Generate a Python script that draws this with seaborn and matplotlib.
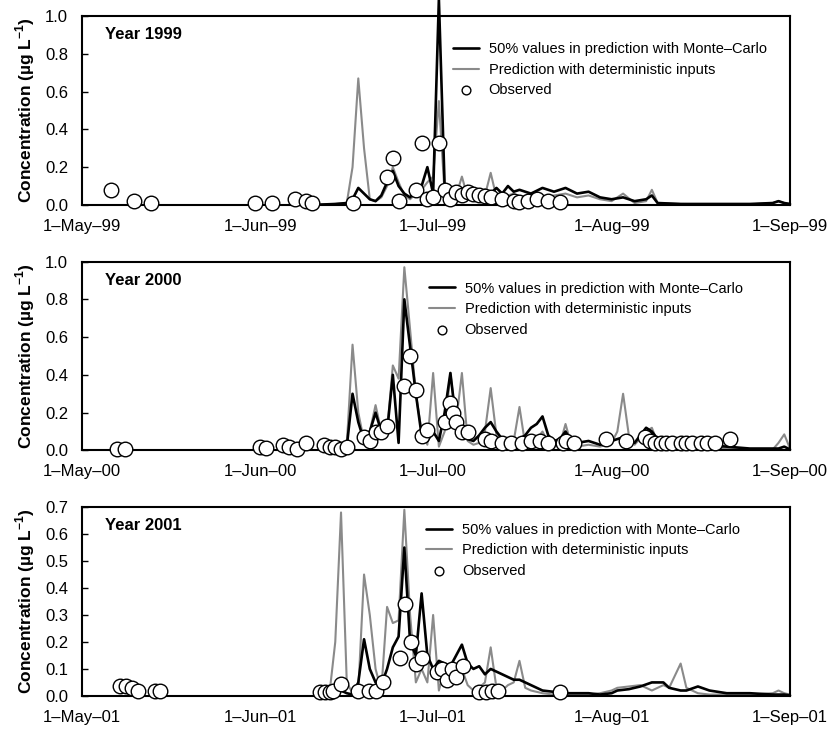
import matplotlib.pyplot as plt
import numpy as np
import seaborn as sns

sns.set_theme(style="white")
plt.rcParams["font.family"] = ["Liberation Sans", "DejaVu Sans"]
plt.rcParams["mathtext.fontset"] = "custom"
plt.rcParams["mathtext.rm"] = "Liberation Sans"
plt.rcParams["mathtext.bf"] = "Liberation Sans:bold"
plt.rcParams["text.color"] = "black"
plt.rcParams["axes.labelcolor"] = "black"

# days counted from 1 May of each year
month_days = [0, 31, 61, 92, 123]
month_names = ["May", "Jun", "Jul", "Aug", "Sep"]

# ---- 1999 ----
days_99 = [40, 44, 46, 47, 48, 49, 50, 51, 52, 53, 54, 55, 56, 57, 58, 59, 60, 61, 62, 63,
           64, 65, 66, 67, 68, 69, 70, 71, 72, 73, 74, 75, 76, 78, 80, 82, 84, 86, 88, 90,
           92, 94, 96, 98, 99, 100, 104, 110, 116, 120, 121, 122, 123]
mc_99 = [0.0, 0.005, 0.01, 0.03, 0.09, 0.06, 0.03, 0.02, 0.05, 0.12, 0.18, 0.1, 0.06, 0.04,
         0.08, 0.1, 0.2, 0.06, 1.09, 0.1, 0.06, 0.08, 0.07, 0.1, 0.07, 0.06, 0.08, 0.06, 0.09,
         0.06, 0.1, 0.07, 0.08, 0.06, 0.09, 0.07, 0.09, 0.06, 0.07, 0.04, 0.03, 0.04, 0.02,
         0.03, 0.05, 0.01, 0.005, 0.005, 0.005, 0.01, 0.02, 0.01, 0.005]
det_99 = [0.0, 0.005, 0.01, 0.2, 0.67, 0.3, 0.03, 0.02, 0.04, 0.1, 0.2, 0.12, 0.05, 0.03,
          0.06, 0.08, 0.12, 0.15, 0.55, 0.06, 0.04, 0.05, 0.15, 0.04, 0.03, 0.04, 0.05, 0.17,
          0.04, 0.03, 0.05, 0.06, 0.04, 0.05, 0.03, 0.05, 0.06, 0.04, 0.05, 0.03, 0.02, 0.06,
          0.01, 0.02, 0.08, 0.01, 0.005, 0.003, 0.003, 0.01, 0.02, 0.01, 0.005]
obs_days_99 = [5, 9, 12, 30, 33, 37, 39, 40, 47, 53, 54, 55, 58, 59, 60, 61, 62, 63, 64, 65,
               66, 67, 68, 69, 70, 71, 73, 75, 76, 77.5, 79, 81, 83]
obs_99 = [0.08, 0.02, 0.01, 0.01, 0.01, 0.03, 0.02, 0.01, 0.01, 0.15, 0.25, 0.02, 0.08, 0.33,
          0.03, 0.04, 0.33, 0.08, 0.03, 0.07, 0.05, 0.07, 0.06, 0.05, 0.045, 0.04, 0.03, 0.02,
          0.015, 0.02, 0.03, 0.02, 0.015]

# ---- 2000 ----
days_00 = [44, 46, 47, 48, 49, 50, 51, 52, 53, 54, 55, 56, 57, 58, 59, 60, 61, 62, 63, 64,
           65, 66, 67, 68, 69, 70, 71, 72, 73, 74, 75, 76, 77, 78, 79, 80, 81, 82, 83, 84,
           85, 86, 88, 90, 92, 93, 94, 95, 96, 98, 99, 100, 102, 104, 108, 112, 116, 120,
           121, 122, 123]
mc_00 = [0.005, 0.02, 0.3, 0.15, 0.05, 0.1, 0.2, 0.1, 0.1, 0.4, 0.04, 0.8, 0.55, 0.3, 0.08,
         0.05, 0.1, 0.05, 0.2, 0.41, 0.15, 0.1, 0.06, 0.05, 0.08, 0.12, 0.15, 0.1, 0.06, 0.05,
         0.04, 0.06, 0.08, 0.12, 0.14, 0.18, 0.08, 0.05, 0.06, 0.1, 0.05, 0.04, 0.05, 0.03,
         0.05, 0.06, 0.07, 0.05, 0.04, 0.12, 0.1, 0.06, 0.04, 0.04, 0.03, 0.02, 0.01, 0.01,
         0.01, 0.02, 0.005]
det_00 = [0.005, 0.03, 0.56, 0.2, 0.05, 0.1, 0.24, 0.1, 0.1, 0.45, 0.38, 0.97, 0.64, 0.3,
          0.1, 0.03, 0.41, 0.02, 0.1, 0.41, 0.15, 0.41, 0.05, 0.03, 0.04, 0.1, 0.33, 0.08,
          0.04, 0.03, 0.05, 0.23, 0.03, 0.04, 0.06, 0.1, 0.04, 0.02, 0.03, 0.14, 0.03, 0.02,
          0.03, 0.02, 0.04, 0.1, 0.3, 0.08, 0.03, 0.1, 0.12, 0.04, 0.03, 0.03, 0.02, 0.01,
          0.005, 0.005, 0.04, 0.085, 0.01]
obs_days_00 = [6, 7.5, 31, 32, 35, 36, 37.3, 39, 42, 43, 44, 45, 46, 49, 50, 51, 52, 53, 56,
               57, 58, 59, 60, 63, 64, 64.5, 65, 66, 67, 70, 71, 73, 74.5, 76.5, 78, 79.5,
               81, 83.5, 84, 85.5, 91, 94.5, 97.8, 98.7, 99.5, 100.5, 101.5, 102.5, 104,
               105, 106, 107.5, 108.5, 110, 112.5]
obs_00 = [0.01, 0.01, 0.02, 0.015, 0.03, 0.02, 0.01, 0.04, 0.03, 0.02, 0.02, 0.01, 0.02,
          0.07, 0.05, 0.1, 0.1, 0.13, 0.34, 0.5, 0.32, 0.075, 0.11, 0.15, 0.25, 0.2, 0.15,
          0.1, 0.1, 0.06, 0.05, 0.04, 0.04, 0.04, 0.05, 0.05, 0.04, 0.04, 0.05, 0.04, 0.06,
          0.05, 0.07, 0.05, 0.04, 0.04, 0.04, 0.04, 0.04, 0.04, 0.04, 0.04, 0.04, 0.04, 0.06]

# ---- 2001 ----
days_01 = [43, 44, 45, 46, 47, 48, 49, 50, 51, 52, 53, 54, 55, 56, 57, 58, 59, 60, 61, 62,
           63, 64, 65, 66, 67, 68, 69, 70, 71, 72, 73, 74, 75, 76, 77, 78, 80, 82, 84, 86,
           88, 90, 92, 93, 95, 97, 99, 101, 102, 104, 105, 107, 109, 112, 116, 120, 121,
           122, 123]
mc_01 = [0.005, 0.01, 0.02, 0.01, 0.005, 0.05, 0.21, 0.1, 0.05, 0.04, 0.1, 0.18, 0.22, 0.55,
         0.2, 0.15, 0.38, 0.15, 0.1, 0.13, 0.12, 0.11, 0.15, 0.19, 0.12, 0.1, 0.11, 0.08,
         0.1, 0.09, 0.08, 0.07, 0.06, 0.06, 0.05, 0.04, 0.02, 0.015, 0.01, 0.01, 0.01,
         0.005, 0.01, 0.02, 0.025, 0.035, 0.05, 0.05, 0.03, 0.02, 0.02, 0.035, 0.02, 0.01,
         0.01, 0.005, 0.005, 0.005, 0.002]
det_01 = [0.01, 0.2, 0.68, 0.05, 0.01, 0.02, 0.45, 0.3, 0.1, 0.02, 0.33, 0.27, 0.28, 0.69,
          0.3, 0.05, 0.1, 0.05, 0.3, 0.02, 0.1, 0.05, 0.08, 0.1, 0.04, 0.02, 0.03, 0.05,
          0.18, 0.03, 0.02, 0.04, 0.05, 0.13, 0.03, 0.02, 0.01, 0.005, 0.005, 0.005, 0.005,
          0.01, 0.02, 0.03, 0.035, 0.04, 0.02, 0.04, 0.03, 0.12, 0.03, 0.01, 0.005, 0.005,
          0.005, 0.01, 0.02, 0.01, 0.005]
obs_days_01 = [6.6, 7.6, 8.7, 9.8, 12.7, 13.5, 41.3, 42.2, 43, 43.6, 45, 48, 49.8, 51, 52.3,
               55.3, 56.2, 57.1, 58, 59, 61.6, 62.5, 63.4, 64.3, 65, 66.2, 69, 70.2, 71.2,
               72.3, 83]
obs_01 = [0.037, 0.037, 0.03, 0.02, 0.02, 0.02, 0.015, 0.015, 0.015, 0.02, 0.045, 0.02,
          0.02, 0.02, 0.05, 0.14, 0.34, 0.2, 0.12, 0.14, 0.09, 0.1, 0.06, 0.1, 0.07, 0.11,
          0.015, 0.015, 0.02, 0.02, 0.015]

panels = [
    ("1999", "99", days_99, mc_99, det_99, obs_days_99, obs_99, 1.0, 0.2, (0.524, 0.862)),
    ("2000", "00", days_00, mc_00, det_00, obs_days_00, obs_00, 1.0, 0.2, (0.490, 0.894)),
    ("2001", "01", days_01, mc_01, det_01, obs_days_01, obs_01, 0.7, 0.1, (0.486, 0.916)),
]

fig, axes = plt.subplots(3, 1, figsize=(8.4, 7.31), dpi=100)
fig.subplots_adjust(left=0.0976, right=0.9405, top=0.978, bottom=0.048, hspace=0.3)

for ax, (year, yy, days, mc, det, od, ov, ymax, step, anchor) in zip(axes, panels):
    sns.lineplot(x=days, y=mc, ax=ax, color="black", linewidth=1.9, estimator=None,
                 label="50% values in prediction with Monte\u2013Carlo", clip_on=False, zorder=3)
    sns.lineplot(x=days, y=det, ax=ax, color="#8a8a8a", linewidth=1.5, estimator=None,
                 label="Prediction with deterministic inputs", zorder=2)
    sns.scatterplot(x=od, y=ov, ax=ax, s=110, facecolor="white", edgecolor="black",
                    linewidth=1.0, label="Observed", zorder=4, clip_on=False)

    ax.set_xlim(0, 123)
    ax.set_ylim(0, ymax)
    ax.set_xticks(month_days)
    ax.set_xticklabels([f"1\u2013{m}\u2013{yy}" for m in month_names])
    yt = np.round(np.arange(0, ymax + step / 2, step), 1)
    ax.set_yticks(yt)
    ax.set_yticklabels([f"{v:.1f}" for v in yt])
    ax.tick_params(axis="x", length=0, pad=10, labelsize=12, colors="black")
    ax.tick_params(axis="y", direction="in", length=4, width=1, pad=10,
                   labelsize=12, colors="black", left=True)
    for sp in ax.spines.values():
        sp.set_color("black")
        sp.set_linewidth(1.5)

    ax.set_xlabel("")
    ax.set_ylabel("Concentration (\u00b5g L$^{\\mathbf{-1}}$)", fontsize=12.5,
                  fontweight="bold", labelpad=6, color="black")
    ax.text(0.032, 0.90, f"Year {year}", transform=ax.transAxes, fontsize=12,
            fontweight="bold", va="center", ha="left", color="black")
    leg = ax.legend(loc="upper left", bbox_to_anchor=anchor, frameon=False, fontsize=10.5,
                    borderpad=0, borderaxespad=0, handlelength=1.8, handletextpad=0.65,
                    labelspacing=0.45, markerscale=0.6)
    for t in leg.get_texts():
        t.set_color("black")

fig.savefig("out.png", dpi=100)
